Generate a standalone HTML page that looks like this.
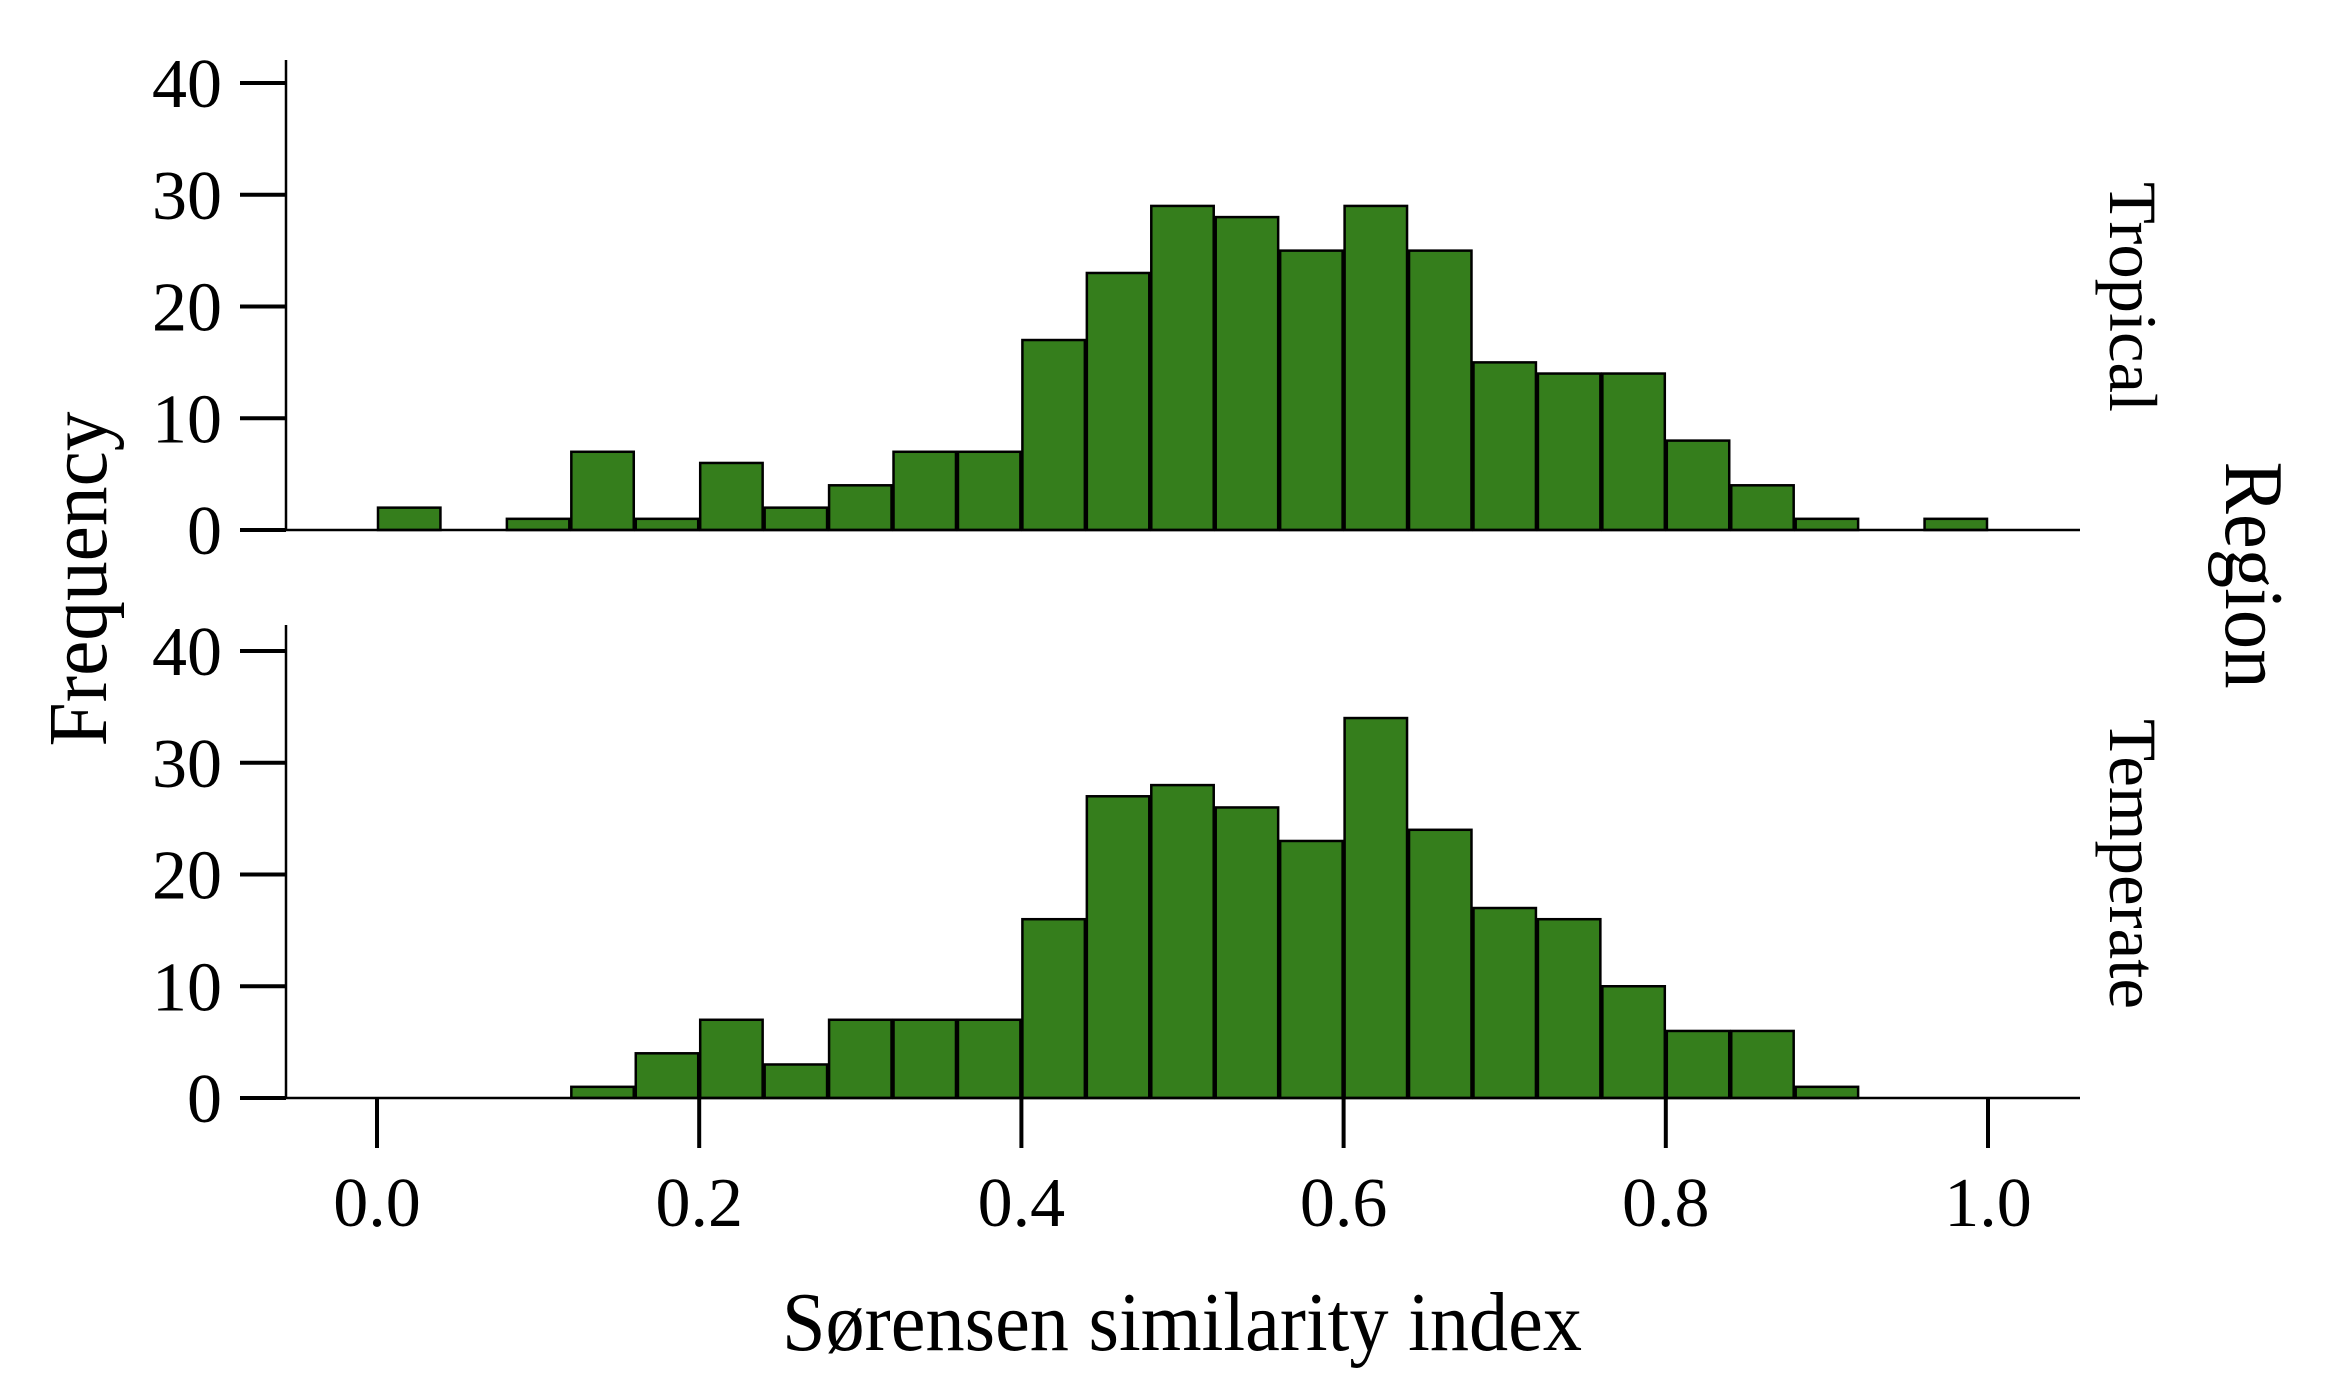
<!DOCTYPE html>
<html><head><meta charset="utf-8"><style>
html,body{margin:0;padding:0;background:#fff;}
svg{display:block;font-family:"Liberation Serif",serif;}
</style></head><body>
<svg id="chart" width="2350" height="1388" viewBox="0 0 2350 1388" xmlns="http://www.w3.org/2000/svg">
<g id="panels"></g>
<text x="1182" y="1350" font-size="84" text-anchor="middle" textLength="800" lengthAdjust="spacingAndGlyphs">Sørensen similarity index</text>
<text transform="translate(106,579) rotate(-90)" font-size="84" text-anchor="middle" textLength="335" lengthAdjust="spacingAndGlyphs">Frequency</text>
<text transform="translate(2226,575) rotate(90)" font-size="84" text-anchor="middle" textLength="227" lengthAdjust="spacingAndGlyphs">Region</text>
</svg>
<script>
const binStarts = [0,0.04,0.08,0.12,0.16,0.20,0.24,0.28,0.32,0.36,0.40,0.44,0.48,0.52,0.56,0.60,0.64,0.68,0.72,0.76,0.80,0.84,0.88,0.92,0.96];
const binWidth = 0.04;
const tropical = [2,0,1,7,1,6,2,4,7,7,17,23,29,28,25,29,25,15,14,14,8,4,1,0,1];
const temperate = [0,0,0,1,4,7,3,7,7,7,16,27,28,26,23,34,24,17,16,10,6,6,1,0,0];
const yTicks = [0,10,20,30,40];
const xTicks = [0.0,0.2,0.4,0.6,0.8,1.0];
const xTickLabels = ["0.0","0.2","0.4","0.6","0.8","1.0"];
const facetNames = ["Tropical","Temperate"];

const NS = "http://www.w3.org/2000/svg";
const X0 = 377, XU = 1611;
function xs(v){ return X0 + v*XU; }
const panelsCfg = [
  {y0:530, per10:111.75, top:60, data:tropical, label:{y:297,len:230}},
  {y0:1098, per10:111.75, top:625, data:temperate, label:{y:864,len:290}}
];
function mk(tag, attrs, parent){
  const e = document.createElementNS(NS, tag);
  for (const k in attrs) e.setAttribute(k, attrs[k]);
  parent.appendChild(e);
  return e;
}
const root = document.getElementById('panels');
panelsCfg.forEach((p, pi) => {
  const ys = v => p.y0 - v*p.per10/10;
  const g = mk('g', {}, root);
  
  
  p.data.forEach((v, i) => {
    if (v <= 0) return;
    const x1 = xs(binStarts[i]), x2 = xs(binStarts[i] + binWidth);
    const r = mk('rect', {x:x1+1, y:ys(v), width:x2-x1-2, height:ys(0)-ys(v), fill:'#357e1c', stroke:'#000', 'stroke-width':2.5}, g);
    
    
  });
  const xa = mk('line', {x1:286, x2:2080, y1:p.y0, y2:p.y0, stroke:'#000', 'stroke-width':2.5}, g);
  
  
  const ya = mk('line', {x1:286, x2:286, y1:p.top, y2:p.y0+1, stroke:'#000', 'stroke-width':2.5}, g);
  
  
  yTicks.forEach(t => {
    const tk = mk('line', {x1:240, x2:286, y1:ys(t), y2:ys(t), stroke:'#000', 'stroke-width':4}, g);
    
    
    const tl = mk('text', {x:222, y:ys(t)+24, 'font-size':70, 'text-anchor':'end'}, g);
    tl.textContent = String(t);
    
    
  });
  const fl = mk('text', {transform:'translate(2110,'+p.label.y+') rotate(90)', 'font-size':68, 'text-anchor':'middle', textLength:p.label.len, lengthAdjust:'spacingAndGlyphs'}, g);
  fl.textContent = facetNames[pi];
  
  
});
const bottom = panelsCfg[1];
xTicks.forEach((t, i) => {
  const tk = mk('line', {x1:xs(t), x2:xs(t), y1:bottom.y0, y2:bottom.y0+50, stroke:'#000', 'stroke-width':4}, root);
  
  
  const tl = mk('text', {x:xs(t), y:1226, 'font-size':70, 'text-anchor':'middle'}, root);
  tl.textContent = xTickLabels[i];
  
  
});
</script>
</body></html>
